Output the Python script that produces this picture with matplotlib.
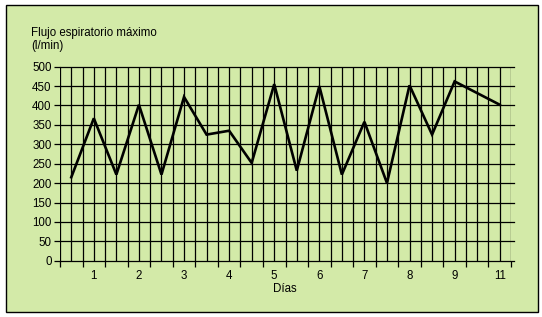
import matplotlib
matplotlib.use("Agg")
import matplotlib.pyplot as plt
from matplotlib.patches import Rectangle
import numpy as np

# Data: two readings per day (peak expiratory flow, l/min)
values = [215, 367, 222, 402, 222, 422, 325, 335, 252, 455,
          232, 450, 222, 358, 200, 452, 325, 462, 432, 402]
day_labels = ["1", "2", "3", "4", "5", "6", "7", "8", "9", "11"]
y_ticks = [0, 50, 100, 150, 200, 250, 300, 350, 400, 450, 500]

title_text = "Flujo espiratorio máximo\n(l/min)"
x_title = "Días"

plt.rcParams['font.family'] = ['Liberation Sans', 'DejaVu Sans']

W, H = 542, 317
fig = plt.figure(figsize=(W / 100, H / 100), dpi=100)
fig.patch.set_facecolor("white")
bg = "#d3eaa8"

# bordered panel
fig.patches.append(Rectangle((6 / W, 1 - 311.5 / H), 532 / W, 306.5 / H,
                             transform=fig.transFigure, facecolor=bg,
                             edgecolor="black", linewidth=1.0, zorder=-10))

ax = fig.add_axes([60 / W, 1 - 260.7 / H, 451 / W, 194 / H])
ax.set_facecolor("none")
ax.set_zorder(5)

n = len(values)
x = np.arange(n) + 0.5
ax.set_xlim(0, n)
ax.set_ylim(0, 500)

# grid
for gx in np.arange(0, n + 0.01, 0.5):
    ax.axvline(gx, color="black", linewidth=0.9, zorder=1)
for gy in y_ticks:
    ax.plot([0, n + 0.12], [gy, gy], color="black", linewidth=0.9,
            clip_on=False, zorder=1)

ax.plot(x, values, color="black", linewidth=1.9, zorder=3,
        solid_joinstyle="miter")

for s in ax.spines.values():
    s.set_visible(False)

ax.set_yticks(y_ticks)
ax.set_yticklabels([str(v) for v in y_ticks])
ax.tick_params(axis="y", length=4, width=0.9, pad=2, labelsize=8.3,
               colors="black")

label_pos = [2 * i + 1.5 for i in range(len(day_labels))]
ax.set_xticks(label_pos)
ax.set_xticklabels(day_labels)
ax.tick_params(axis="x", which="major", length=0, pad=7, labelsize=8.3)
ax.set_xticks(np.arange(0, n + 1), minor=True)
ax.tick_params(axis="x", which="minor", length=4, width=0.9)

fig.text(31 / W, 1 - 27 / H, title_text, ha="left", va="top",
         fontsize=8.3, linespacing=1.1)
fig.text(285 / W, 1 - 289 / H, x_title, ha="center", va="center",
         fontsize=8.3)

fig.savefig("out.png", dpi=100, facecolor=fig.get_facecolor())
